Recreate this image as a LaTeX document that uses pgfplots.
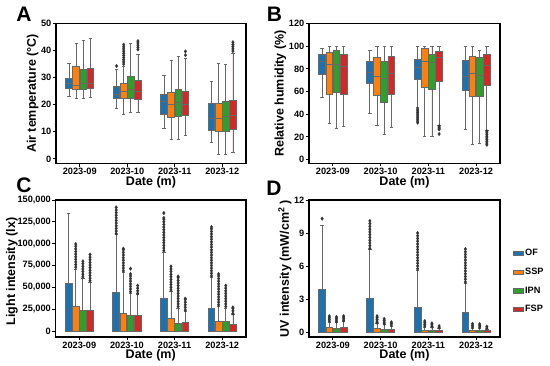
\documentclass[border=0pt]{standalone}
\usepackage{fontspec}
\setmainfont{Liberation Sans}
\usepackage{pgfplots}
\pgfplotsset{compat=1.18}
\usepgfplotslibrary{statistics}
\definecolor{cOF}{HTML}{1C72B0}
\definecolor{cSSP}{HTML}{FF7F0E}
\definecolor{cIPN}{HTML}{2CA02C}
\definecolor{cFSP}{HTML}{D62728}
\definecolor{bgray}{HTML}{686868}
\definecolor{ogray}{HTML}{333333}
% pos, lower whisker, lower quartile, median, upper quartile, upper whisker, colour, outliers
\newcommand\bx[8]{\addplot[forget plot, draw=bgray, line width=0.8pt, fill=#7,
  mark=diamond*, mark size=1.8pt, mark options={fill=ogray,draw=ogray,line width=0.2pt},
  boxplot prepared={draw direction=y, draw position=#1, lower whisker=#2, lower quartile=#3,
  median=#4, upper quartile=#5, upper whisker=#6}] table[row sep=\\, y index=0] {v\\ #8};}
\pgfplotsset{panel/.style={scale only axis, anchor=north west,
  xmin=-0.5, xmax=3.5, xtick={0,1,2,3},
  xticklabels={2023-09,2023-10,2023-11,2023-12},
  tick align=outside, tick pos=left, major tick length=3pt,
  axis line style={line width=1.1pt}, tick style={line width=0.8pt, black},
  ticklabel style={font=\fontsize{9.2}{11}\selectfont\bfseries},
  yticklabel style={inner sep=1.5pt},
  xticklabel style={inner sep=1.5pt},
  label style={font=\fontsize{12.5}{14}\selectfont\bfseries},
  xlabel={Date (m)}, xlabel style={inner sep=0pt, yshift=0pt},
  ylabel style={inner sep=1pt},
  /pgf/number format/.cd, fixed, 1000 sep={,}, assume math mode=true, /pgfplots/.cd,
  scaled y ticks=false,
  boxplot/draw direction=y,
  boxplot/box extend=0.14, boxplot/whisker extend=0.07}}
\begin{document}
\begin{tikzpicture}
\path[use as bounding box] (0,0) rectangle (550pt,-366pt);
% ---------------- A ----------------
\begin{axis}[panel, at={(56pt,-23.5pt)}, width=190pt, height=140pt,
  ymin=-1.7, ymax=50, ytick={0,10,...,50}, ylabel={Air temperature (°C)}]
\bx{-0.225}{23.2}{26.1}{27.9}{29.8}{35.3}{cOF}{}
\bx{-0.075}{22.4}{25.7}{27.2}{34.1}{42.7}{cSSP}{}
\bx{0.075}{22.4}{25.6}{27.8}{33.0}{43.8}{cIPN}{}
\bx{0.225}{22.7}{25.9}{27.9}{33.6}{44.4}{cFSP}{}
\bx{0.775}{18.5}{22.2}{24.0}{26.8}{33.0}{cOF}{34.3\\}
\bx{0.925}{16.6}{22.2}{24.9}{28.0}{34.2}{cSSP}{35.0\\ 35.8\\ 36.6\\ 37.4\\ 38.2\\ 39.0\\ 39.8\\ 40.6\\ 41.4\\ 42.2\\}
\bx{1.075}{17.2}{22.3}{25.6}{30.5}{42.5}{cIPN}{}
\bx{1.225}{17.2}{21.9}{25.0}{28.9}{38.5}{cFSP}{40.4\\ 41.2\\ 42.0\\ 42.8\\ 43.5\\}
\bx{1.775}{11.2}{16.6}{21.1}{24.0}{30.9}{cOF}{}
\bx{1.925}{7.1}{15.5}{20.1}{24.6}{36.3}{cSSP}{}
\bx{2.075}{7.1}{15.8}{20.9}{25.6}{37.7}{cIPN}{}
\bx{2.225}{8.6}{16.0}{20.3}{25.0}{37.0}{cFSP}{38.3\\ 39.7\\}
\bx{2.775}{6.0}{10.7}{15.1}{20.4}{28.6}{cOF}{}
\bx{2.925}{1.7}{10.0}{15.0}{20.6}{35.4}{cSSP}{}
\bx{3.075}{1.7}{10.2}{15.7}{21.1}{34.8}{cIPN}{}
\bx{3.225}{2.3}{11.0}{15.9}{21.6}{39.1}{cFSP}{39.8\\ 40.6\\ 41.4\\ 42.2\\ 43.1\\}
\end{axis}
% ---------------- B ----------------
\begin{axis}[panel, at={(309pt,-23.5pt)}, width=191pt, height=140pt,
  ymin=-3.5, ymax=120, ytick={0,20,...,120}, ylabel={Relative humidity (\%)}]
\bx{-0.225}{54.8}{75.1}{86.5}{93.0}{97.7}{cOF}{}
\bx{-0.075}{32.3}{57.2}{84.3}{94.6}{100}{cSSP}{}
\bx{0.075}{27.1}{59.2}{84.3}{96.2}{100}{cIPN}{}
\bx{0.225}{28.9}{57.2}{82.4}{92.4}{100}{cFSP}{}
\bx{0.775}{40.6}{67.0}{76.5}{86.2}{96.5}{cOF}{}
\bx{0.925}{30.0}{56.5}{73.5}{90.3}{100}{cSSP}{}
\bx{1.075}{22.0}{50.0}{71.5}{86.8}{100}{cIPN}{}
\bx{1.225}{28.0}{57.4}{75.9}{91.2}{100}{cFSP}{}
\bx{1.775}{45.6}{70.6}{80.9}{88.2}{100}{cOF}{32.5\\ 34.0\\ 35.5\\ 37.0\\ 38.5\\ 40.0\\ 41.5\\ 43.0\\ 44.5\\}
\bx{1.925}{20.0}{63.8}{86.8}{97.6}{100}{cSSP}{}
\bx{2.075}{20.0}{61.8}{85.3}{92.6}{100}{cIPN}{}
\bx{2.225}{30.0}{69.1}{90.3}{95.6}{100}{cFSP}{22.5\\ 26.5\\ 27.5\\ 28.5\\ 29.4\\}
\bx{2.775}{26.5}{61.2}{73.5}{87.4}{100}{cOF}{}
\bx{2.925}{13.2}{55.3}{75.9}{91.2}{100}{cSSP}{}
\bx{3.075}{14.1}{55.3}{74.4}{89.7}{96.5}{cIPN}{}
\bx{3.225}{25.8}{65.3}{82.9}{92.6}{100}{cFSP}{13.0\\ 14.5\\ 16.0\\ 17.5\\ 19.0\\ 20.5\\ 22.0\\ 23.5\\ 25.0\\}
\end{axis}
% ---------------- C (values in thousands of lx) ----------------
\begin{axis}[panel, at={(55.5pt,-200pt)}, width=190.5pt, height=137pt,
  ymin=-6.9, ymax=150, ytick={0,25,50,75,100,125,150},
  yticklabels={0,{25,000},{50,000},{75,000},{100,000},{125,000},{150,000}},
  ylabel={Light intensity (lx)}, ylabel style={yshift=-3pt, xshift=-3pt}]
\bx{-0.225}{0}{0}{0}{55.0}{134.3}{cOF}{}
\bx{-0.075}{0}{0}{0}{28.3}{71.0}{cSSP}{73\\ 76\\ 79\\ 82\\ 85\\ 88\\ 91\\ 94\\ 97\\ 99.6\\}
\bx{0.075}{0}{0}{0}{24.0}{60.7}{cIPN}{62\\ 65\\ 68\\ 71\\ 74\\ 77\\ 79.8\\}
\bx{0.225}{0}{0}{0}{23.3}{55.8}{cFSP}{57.5\\ 60.5\\ 63.5\\ 66.5\\ 69.5\\ 72.5\\ 75.5\\ 78.5\\ 81.5\\ 84.5\\ 87.5\\}
\bx{0.775}{0}{0}{0}{44.7}{110.3}{cOF}{111.5\\ 114.5\\ 117.5\\ 120.5\\ 123.5\\ 126.5\\ 129.5\\ 132.5\\ 135.5\\ 138.5\\ 141.5\\}
\bx{0.925}{0}{0}{0}{20.6}{67.6}{cSSP}{69\\ 72\\ 75\\ 78\\ 81\\ 84\\ 87\\ 90\\ 93\\ 94.3\\}
\bx{1.075}{0}{0}{0}{18.0}{43.5}{cIPN}{45\\ 48\\ 51\\ 54\\ 57\\ 60\\ 63\\ 65.3\\ 71.4\\}
\bx{1.225}{0}{0}{0}{18.0}{41.6}{cFSP}{43\\ 46\\ 49\\ 52\\}
\bx{1.775}{0}{0}{0}{37.0}{90.5}{cOF}{92\\ 95\\ 98\\ 101\\ 104\\ 107\\ 110\\ 113\\ 116\\ 119\\ 122\\ 125\\ 128\\ 129.5\\ 135.1\\}
\bx{1.925}{0}{0}{0}{14.1}{45.4}{cSSP}{47\\ 50\\ 53\\ 56\\ 59\\ 62\\ 65\\ 68\\ 71\\ 74\\}
\bx{2.075}{0}{0}{0}{8.4}{26.3}{cIPN}{28\\ 31\\ 34\\ 37\\ 40\\ 43\\ 46\\ 49\\ 52\\ 55\\ 58\\ 61\\ 62.6\\}
\bx{2.225}{0}{0}{0}{9.9}{22.5}{cFSP}{24\\ 27\\ 30\\ 33\\ 36\\ 37.1\\}
\bx{2.775}{0}{0}{0}{25.6}{61.8}{cOF}{63\\ 66\\ 69\\ 72\\ 75\\ 78\\ 81\\ 84\\ 87\\ 90\\ 93\\ 96\\ 99\\ 102\\ 105\\ 108\\ 111\\ 114\\ 117\\ 119.1\\}
\bx{2.925}{0}{0}{0}{11.4}{28.3}{cSSP}{30\\ 33\\ 36\\ 39\\ 42\\ 45\\ 48\\ 51\\ 54\\ 57\\ 60\\ 63\\ 65.3\\}
\bx{3.075}{0}{0}{0}{10.7}{26.3}{cIPN}{28\\ 31\\ 34\\ 37\\ 40\\ 43\\ 46\\ 49\\ 52\\}
\bx{3.225}{0}{0}{0}{8.0}{18.7}{cFSP}{20\\ 23\\ 26\\ 27.1\\}
\end{axis}
% ---------------- D ----------------
\begin{axis}[panel, at={(309pt,-200pt)}, width=191pt, height=137pt,
  ymin=-0.45, ymax=12, ytick={0,3,...,12}, ylabel={UV intensity (mW/cm\textsuperscript{2} )},
  legend style={at={(1.065,0.655)}, anchor=north west, draw=none, fill=none,
    font=\fontsize{9.2}{11}\selectfont\bfseries, row sep=6.8pt, inner sep=0pt},
  legend cell align=left,
  legend image code/.code={\draw[#1, line width=0.5pt] (0pt,-2.2pt) rectangle (10pt,2.2pt);}]
\addlegendimage{fill=cOF, draw=bgray}\addlegendentry{OF}
\addlegendimage{fill=cSSP, draw=bgray}\addlegendentry{SSP}
\addlegendimage{fill=cIPN, draw=bgray}\addlegendentry{IPN}
\addlegendimage{fill=cFSP, draw=bgray}\addlegendentry{FSP}
\bx{-0.225}{0}{0}{0}{3.9}{9.7}{cOF}{10.3\\}
\bx{-0.075}{0}{0}{0}{0.38}{0.9}{cSSP}{1.0\\ 1.15\\ 1.3\\ 1.45\\}
\bx{0.075}{0}{0}{0}{0.35}{0.85}{cIPN}{0.95\\ 1.1\\ 1.25\\ 1.38\\}
\bx{0.225}{0}{0}{0}{0.42}{0.95}{cFSP}{1.05\\ 1.2\\ 1.35\\ 1.45\\}
\bx{0.775}{0}{0}{0}{3.05}{7.48}{cOF}{7.6\\ 7.85\\ 8.1\\ 8.35\\ 8.6\\ 8.85\\ 9.1\\ 9.35\\ 9.6\\ 9.85\\ 10.1\\}
\bx{0.925}{0}{0}{0}{0.3}{0.75}{cSSP}{0.85\\ 1.0\\ 1.15\\ 1.3\\ 1.45\\}
\bx{1.075}{0}{0}{0}{0.25}{0.65}{cIPN}{0.75\\ 0.9\\ 1.05\\ 1.2\\}
\bx{1.225}{0}{0}{0}{0.27}{0.55}{cFSP}{0.65\\ 0.8\\ 0.9\\}
\bx{1.775}{0}{0}{0}{2.23}{5.6}{cOF}{5.75\\ 6.0\\ 6.25\\ 6.5\\ 6.75\\ 7.0\\ 7.25\\ 7.5\\ 7.75\\ 8.0\\ 8.25\\ 8.5\\ 8.75\\ 9.0\\}
\bx{1.925}{0}{0}{0}{0.18}{0.45}{cSSP}{0.55\\ 0.7\\ 0.85\\ 1.0\\}
\bx{2.075}{0}{0}{0}{0.15}{0.4}{cIPN}{0.5\\ 0.65\\ 0.8\\}
\bx{2.225}{0}{0}{0}{0.15}{0.3}{cFSP}{0.4\\ 0.55\\}
\bx{2.775}{0}{0}{0}{1.77}{4.43}{cOF}{4.55\\ 4.8\\ 5.05\\ 5.3\\ 5.55\\ 5.8\\ 6.05\\ 6.3\\ 6.55\\ 6.8\\ 7.05\\ 7.3\\ 7.55\\}
\bx{2.925}{0}{0}{0}{0.15}{0.35}{cSSP}{0.45\\ 0.6\\ 0.75\\}
\bx{3.075}{0}{0}{0}{0.15}{0.35}{cIPN}{0.45\\ 0.6\\ 0.72\\}
\bx{3.225}{0}{0}{0}{0.12}{0.25}{cFSP}{0.35\\ 0.5\\}
\end{axis}
% panel letters
\node[font=\fontsize{21}{21}\selectfont\bfseries] at (24pt,-14.5pt) {A};
\node[font=\fontsize{21}{21}\selectfont\bfseries] at (274.5pt,-14.5pt) {B};
\node[font=\fontsize{21}{21}\selectfont\bfseries] at (24pt,-185pt) {C};
\node[font=\fontsize{21}{21}\selectfont\bfseries] at (274pt,-188pt) {D};
\end{tikzpicture}
\end{document}
